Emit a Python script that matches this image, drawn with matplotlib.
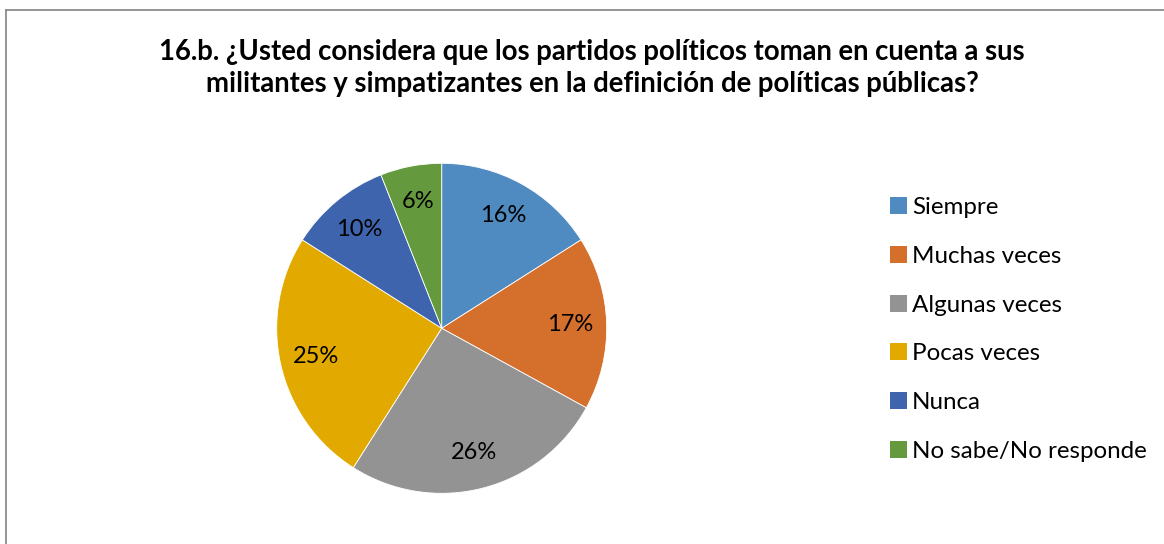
import matplotlib.pyplot as plt
from matplotlib.lines import Line2D
from matplotlib.patches import Patch

plt.rcParams["font.family"] = ["Lato", "DejaVu Sans"]

TITLE = ("16.b. ¿Usted considera que los partidos políticos toman en cuenta a sus\n"
         "militantes y simpatizantes en la definición de políticas públicas?")
categories = ["Siempre", "Muchas veces", "Algunas veces", "Pocas veces",
              "Nunca", "No sabe/No responde"]
shares = [16, 17, 26, 25, 10, 6]
colors = ["#4F8BC0", "#D4702C", "#939393", "#E2AA00", "#3D64AC", "#64993E"]

W, H = 1164, 544
fig = plt.figure(figsize=(W / 100, H / 100), dpi=100)

# chart frame (only left and top edges are visible in the crop)
fig.add_artist(Line2D([6 / W, 6 / W], [0, 1 - 10 / H], transform=fig.transFigure,
                      color="#8c8c8c", lw=1.3))
fig.add_artist(Line2D([6 / W, 1], [1 - 10 / H, 1 - 10 / H], transform=fig.transFigure,
                      color="#8c8c8c", lw=1.3))

fig.text(592 / W, 1 - 68 / H, TITLE, ha="center", va="center", fontsize=19.8,
         fontweight="bold", linespacing=1.3)

cx, cy, r = 441.7, 328.3, 165
ax = fig.add_axes([(cx - r) / W, (H - cy - r) / H, 2 * r / W, 2 * r / H])
wedges, _, autotexts = ax.pie(
    shares, colors=colors, startangle=90, counterclock=False,
    autopct="%d%%", pctdistance=0.78,
    wedgeprops={"edgecolor": "white", "linewidth": 0.6},
    textprops={"fontsize": 17, "color": "black"},
)
ax.set_xlim(-1, 1)
ax.set_ylim(-1, 1)
ax.set_aspect("equal")
ax.axis("off")

handles = [Patch(facecolor=c, edgecolor="none") for c in colors]
fig.legend(handles, categories, loc="upper left",
           bbox_to_anchor=(890 / W, 1 - 197 / H), frameon=False, fontsize=17.4,
           handlelength=0.7, handleheight=0.7, handletextpad=0.2,
           labelspacing=1.15, borderaxespad=0, borderpad=0)

fig.savefig("out.png", dpi=100)
